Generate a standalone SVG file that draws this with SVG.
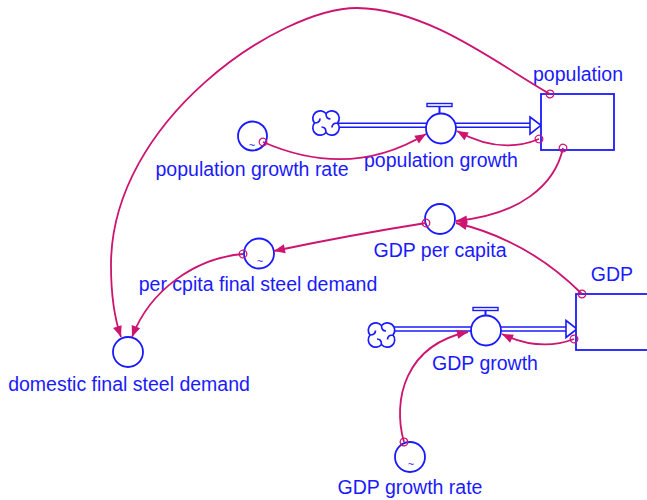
<svg xmlns="http://www.w3.org/2000/svg" width="647" height="500" viewBox="0 0 647 500">
<style>
.lbl{font-family:"Liberation Sans",Arial,sans-serif;font-size:19.5px;fill:#1a1aff;text-anchor:middle}
.tl{font-family:"Liberation Sans",Arial,sans-serif;font-size:11px;fill:#1a1aff;text-anchor:middle}
.node{fill:#fff;stroke:#1a1aff;stroke-width:1.8}
.pipe{fill:none;stroke:#1a1aff;stroke-width:1.5}
.lnk{fill:none;stroke:#cc1470;stroke-width:1.8;marker-start:url(#tail);marker-end:url(#head)}
</style>
<defs>
<marker id="head" viewBox="-12 -6 13 12" refX="0" refY="0" markerWidth="13" markerHeight="12" markerUnits="userSpaceOnUse" orient="auto">
<path d="M0,0 L-11,-4.5 L-11,4.5 Z" fill="#cc1470"/>
</marker>
<marker id="tail" viewBox="-6 -6 12 12" refX="0" refY="0" markerWidth="12" markerHeight="12" markerUnits="userSpaceOnUse" orient="auto">
<circle cx="0" cy="0" r="3.8" fill="none" stroke="#cc1470" stroke-width="1.3"/>
</marker>
<g id="cloudshape">
<path d="M0,-9.5 A7.2,7.2 0 0 1 11.5,0 A7.2,7.2 0 0 1 0,9.5 A7.2,7.2 0 0 1 -11.5,0 A7.2,7.2 0 0 1 0,-9.5 Z M0,-9.5 q0,5.5 4.5,5.5 M11.5,0 q-5.5,0 -5.5,4.5 M0,9.5 q0,-5.5 -4.5,-5.5 M-11.5,0 q5.5,0 5.5,-4.5" fill="#fff" stroke="#1a1aff" stroke-width="1.7" stroke-linejoin="round"/>
</g>
</defs>

<g id="population-flow">
<line class="pipe" x1="337" y1="123.3" x2="531" y2="123.3"/>
<line class="pipe" x1="337" y1="127.3" x2="531" y2="127.3"/>
<use href="#cloudshape" x="326" y="123"/>
<path d="M530,117 L541,125.3 L530,134 Z" fill="#fff" stroke="#1a1aff" stroke-width="1.6"/>
</g>

<g id="population">
<rect class="node" x="541" y="94" width="73" height="56"/>
<text class="lbl" x="578" y="81">population</text>
</g>

<g id="population-growth">
<line x1="439.5" y1="104" x2="439.5" y2="114" stroke="#1a1aff" stroke-width="2"/>
<rect x="427" y="103.5" width="25" height="3" fill="#fff" stroke="#1a1aff" stroke-width="1.4"/>
<circle class="node" cx="441" cy="128.5" r="15"/>
<text class="lbl" x="441" y="167">population growth</text>
</g>

<g id="population-growth-rate">
<circle class="node" cx="252.5" cy="136" r="14.5"/>
<text class="tl" x="252" y="149">~</text>
<text class="lbl" x="252" y="176">population growth rate</text>
</g>

<g id="gdp-per-capita">
<circle class="node" cx="440" cy="219" r="15"/>
<text class="lbl" x="440" y="257">GDP per capita</text>
</g>

<g id="per-cpita-final-steel-demand">
<circle class="node" cx="259" cy="253.5" r="15"/>
<text class="tl" x="260" y="265">~</text>
<text class="lbl" x="258" y="291">per cpita final steel demand</text>
</g>

<g id="domestic-final-steel-demand">
<circle class="node" cx="128" cy="352" r="15"/>
<text class="lbl" x="129" y="391">domestic final steel demand</text>
</g>

<g id="gdp-flow">
<line class="pipe" x1="393" y1="327" x2="567" y2="327"/>
<line class="pipe" x1="393" y1="331" x2="567" y2="331"/>
<use href="#cloudshape" x="381.5" y="335"/>
<path d="M566,320.5 L577,329 L566,337.5 Z" fill="#fff" stroke="#1a1aff" stroke-width="1.6"/>
</g>

<g id="gdp">
<rect class="node" x="576" y="294" width="80" height="56"/>
<text class="lbl" x="612" y="281">GDP</text>
</g>

<g id="gdp-growth">
<line x1="485.5" y1="309" x2="485.5" y2="316" stroke="#1a1aff" stroke-width="2"/>
<rect x="473" y="307.5" width="25" height="3" fill="#fff" stroke="#1a1aff" stroke-width="1.4"/>
<circle class="node" cx="486" cy="330.5" r="15"/>
<text class="lbl" x="485" y="370">GDP growth</text>
</g>

<g id="gdp-growth-rate">
<circle class="node" cx="410" cy="457" r="15"/>
<text class="tl" x="411" y="468">~</text>
<text class="lbl" x="410" y="494">GDP growth rate</text>
</g>

<g id="connectors">
<path class="lnk" d="M550,94 C500,66 430,9 357,8 C280,8 111,120 111,265 C111,300 115,320 121,337"/>
<path class="lnk" d="M263,142 Q350,180 426,134"/>
<path class="lnk" d="M539,139 Q500,155 457,131"/>
<path class="lnk" d="M563,148 C555,185 520,215 456,221"/>
<path class="lnk" d="M582,294 Q528,240 456,223"/>
<path class="lnk" d="M426,223 Q350,235 274,251"/>
<path class="lnk" d="M243,254 C195,258 150,290 132,337"/>
<path class="lnk" d="M574,339 Q540,352 502,334"/>
<path class="lnk" d="M404,442 C392,400 405,345 468,332"/>
</g>
</svg>
